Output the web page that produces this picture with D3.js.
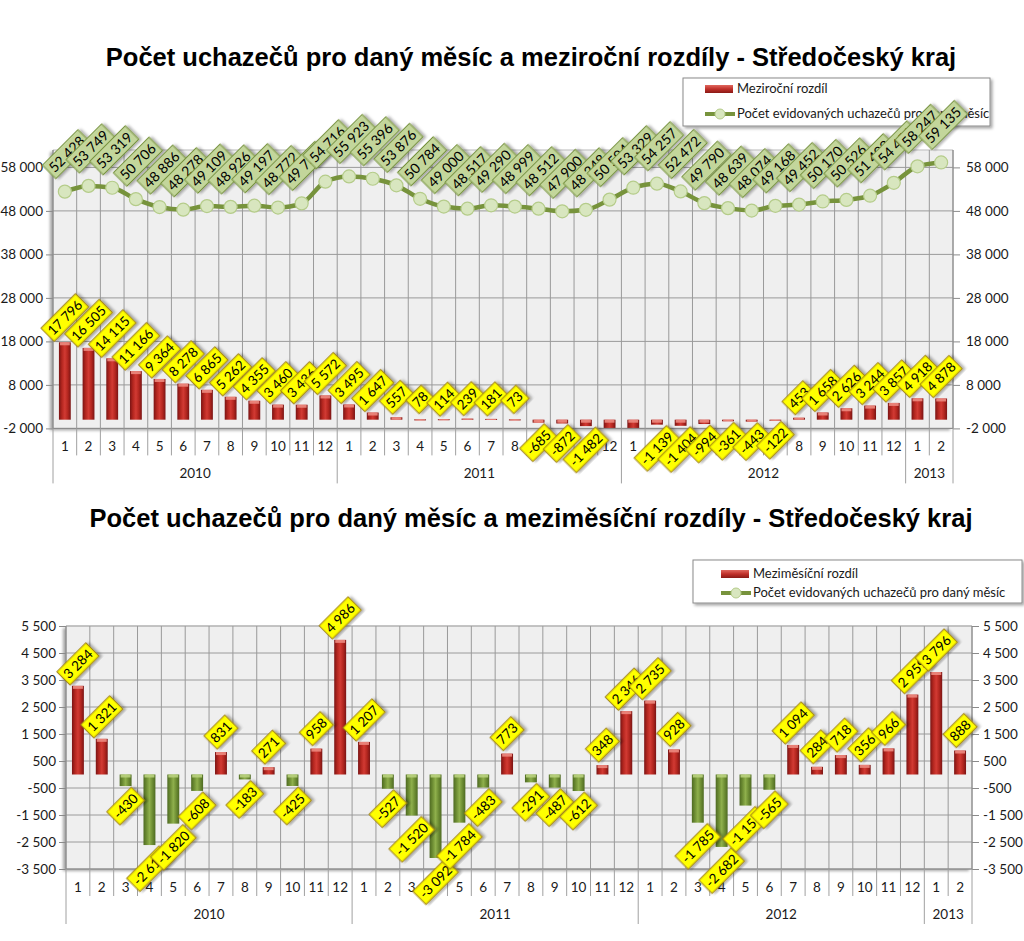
<!DOCTYPE html>
<html><head><meta charset="utf-8">
<script src="https://cdn.jsdelivr.net/npm/d3@7"></script>
<style>body{margin:0;background:#fff}svg{display:block}</style>
</head><body>
<svg id="c" width="1024" height="941"></svg>
<script>
// ---------- DATA ----------
const months = [1,2,3,4,5,6,7,8,9,10,11,12, 1,2,3,4,5,6,7,8,9,10,11,12, 1,2,3,4,5,6,7,8,9,10,11,12, 1,2];
const years = ["2010","2011","2012","2013"];
const yearLengths = [12,12,12,2];
const uchazeci = [52428,53749,53319,50706,48886,48278,49109,48926,49197,48772,49730,54716,
                  55923,55396,53876,50784,49000,48517,49290,48999,48512,47900,48248,50594,
                  53329,54257,52472,49790,48639,48074,49168,49452,50170,50526,51492,54451,
                  58247,59135];
const mezirocni = [17796,16505,14115,11166,9364,8278,6865,5262,4355,3460,3436,5572,
                   3495,1647,557,78,114,239,181,73,-685,-872,-1482,-4122,
                   -2594,-1139,-1404,-994,-361,-443,-122,453,1658,2626,3244,3857,
                   4918,4878];
const mezimesicni = [3284,1321,-430,-2613,-1820,-608,831,-183,271,-425,958,4986,
                     1207,-527,-1520,-3092,-1784,-483,773,-291,-487,-612,348,2346,
                     2735,928,-1785,-2682,-1151,-565,1094,284,718,356,966,2959,
                     3796,888];
const ticksTop = [-2000,8000,18000,28000,38000,48000,58000];
const domainTop = [-2000,62000];
const ticksBottom = [-3500,-2500,-1500,-500,500,1500,2500,3500,4500,5500];
const domainBottom = [-3500,5500];
const titleTop = "Počet uchazečů pro daný měsíc a meziroční rozdíly - Středočeský kraj";
const titleBottom = "Počet uchazečů pro daný měsíc a meziměsíční rozdíly - Středočeský kraj";
const legendBarTop = "Meziroční rozdíl";
const legendBarBottom = "Meziměsíční rozdíl";
const legendLine = "Počet evidovaných uchazečů pro daný měsíc";

// ---------- HELPERS ----------
const fmt = d3.formatLocale({decimal:",",thousands:"\u00a0",grouping:[3],currency:["",""],minus:"-"}).format(",d");
const svg = d3.select("#c");
const FONT = "Lato, 'Open Sans', sans-serif";
const defs = svg.append("defs");

function hGrad(id, stops){
  const g = defs.append("linearGradient").attr("id",id).attr("x1",0).attr("x2",1).attr("y1",0).attr("y2",0);
  stops.forEach(s=>g.append("stop").attr("offset",s[0]).attr("stop-color",s[1]));
}
function vGrad(id, stops){
  const g = defs.append("linearGradient").attr("id",id).attr("x1",0).attr("x2",0).attr("y1",0).attr("y2",1);
  stops.forEach(s=>g.append("stop").attr("offset",s[0]).attr("stop-color",s[1]));
}
hGrad("gRed",[[0,"#7a1414"],[0.25,"#b3261f"],[0.5,"#d23a33"],[0.75,"#b3261f"],[1,"#7a1414"]]);
hGrad("gGreen",[[0,"#4e6a22"],[0.25,"#6d8d33"],[0.5,"#8fb04c"],[0.75,"#6d8d33"],[1,"#4e6a22"]]);
vGrad("gRedLeg",[[0,"#e0685f"],[0.5,"#c0302a"],[1,"#8a1a16"]]);
const f1 = defs.append("filter").attr("id","shadow").attr("x","-20%").attr("y","-20%").attr("width","140%").attr("height","140%");
f1.append("feDropShadow").attr("dx",2).attr("dy",2).attr("stdDeviation",1.5).attr("flood-color","#000").attr("flood-opacity",0.35);
const f2 = defs.append("filter").attr("id","pshadow").attr("x","-5%").attr("y","-5%").attr("width","110%").attr("height","110%");
f2.append("feDropShadow").attr("dx",-3).attr("dy",2).attr("stdDeviation",1.5).attr("flood-color","#000").attr("flood-opacity",0.35);

function dataLabel(g, cx, cy, txt, fill, stroke, dir, minOff, extra, fs){
  const grp = g.append("g");
  const t = grp.append("text").text(txt).attr("text-anchor","middle").attr("dy","0.36em")
    .style("font-family",FONT).style("font-size",fs+"px").attr("fill","#000");
  const w = t.node().getComputedTextLength()+6, h = fs+5;
  const half = (w+h)/(2*Math.SQRT2);
  const off = Math.max(half, minOff) + extra;
  grp.attr("transform",`translate(${cx},${cy + (dir<0 ? -off : off)}) rotate(-45)`);
  grp.insert("rect","text").attr("x",-w/2).attr("y",-h/2).attr("width",w).attr("height",h)
    .attr("fill",fill).attr("stroke",stroke).attr("stroke-width",1).attr("filter","url(#shadow)");
}

function drawChart(cfg){
  const g = svg.append("g");
  const x = d3.scaleBand().domain(d3.range(months.length)).range([cfg.x0,cfg.x1]).padding(0);
  const y = d3.scaleLinear().domain(cfg.domain).range([cfg.yBot,cfg.yTop]);
  const step = x.step(), bw = step*0.5;
  const cx = i => x(i)+step/2;

  g.append("rect").attr("x",cfg.x0).attr("y",cfg.yTop).attr("width",cfg.x1-cfg.x0).attr("height",cfg.yBot-cfg.yTop)
    .attr("fill","#efefef").attr("filter","url(#pshadow)");
  g.append("g").selectAll("line").data(cfg.ticks).join("line")
    .attr("x1",cfg.x0).attr("x2",cfg.x1).attr("y1",d=>y(d)).attr("y2",d=>y(d))
    .attr("stroke","#9a9a9a").attr("stroke-width",1);
  g.append("line").attr("x1",cfg.x0).attr("x2",cfg.x1).attr("y1",cfg.yTop).attr("y2",cfg.yTop).attr("stroke","#bdbdbd");
  g.append("g").selectAll("line").data(d3.range(months.length+1)).join("line")
    .attr("x1",i=>cfg.x0+i*step).attr("x2",i=>cfg.x0+i*step).attr("y1",cfg.yTop).attr("y2",cfg.yBot)
    .attr("stroke","#9a9a9a").attr("stroke-width",1);

  const clipId = "clip"+cfg.id;
  defs.append("clipPath").attr("id",clipId).append("rect")
    .attr("x",cfg.x0).attr("y",cfg.yTop).attr("width",cfg.x1-cfg.x0).attr("height",cfg.yBot-cfg.yTop);
  const bars = g.append("g").attr("clip-path",`url(#${clipId})`);
  const z = y(0);
  cfg.bars.forEach((v,i)=>{
    const neg = v<0 && cfg.greenNeg;
    const top = Math.min(y(v),z), hgt = Math.max(Math.abs(y(v)-z),1);
    bars.append("rect").attr("x",cx(i)-bw/2).attr("y",top).attr("width",bw).attr("height",hgt)
      .attr("fill",neg?"url(#gGreen)":"url(#gRed)");
    const capY = v>=0 ? top : z;
    bars.append("rect").attr("x",cx(i)-bw/2+1).attr("y",capY).attr("width",bw-2).attr("height",Math.min(3,hgt))
      .attr("fill",neg?"#b9d27e":"#ec8a80").attr("opacity",0.9);
  });

  if(cfg.line){
    const lineG = g.append("g").attr("clip-path",`url(#${clipId})`);
    lineG.append("path").datum(cfg.line)
      .attr("d",d3.line().x((d,i)=>cx(i)).y(d=>y(d)).curve(d3.curveMonotoneX))
      .attr("fill","none").attr("stroke","#77933c").attr("stroke-width",4.5);
    lineG.selectAll("circle").data(cfg.line).join("circle")
      .attr("cx",(d,i)=>cx(i)).attr("cy",d=>y(d)).attr("r",6.5)
      .attr("fill","#d8e6bf").attr("stroke","#b5cc8a").attr("stroke-width",1.2);
  }

  const axL = g.append("g").attr("transform",`translate(${cfg.x0},0)`)
    .call(d3.axisLeft(y).tickValues(cfg.ticks).tickFormat(fmt).tickSize(7).tickPadding(3));
  const axR = g.append("g").attr("transform",`translate(${cfg.x1},0)`)
    .call(d3.axisRight(y).tickValues(cfg.ticks).tickFormat(fmt).tickSize(7).tickPadding(cfg.rPad));
  [axL,axR].forEach(a=>{
    a.select(".domain").remove();
    a.selectAll(".tick line").attr("stroke","#8a8a8a");
    a.selectAll("text").style("font-family",FONT).style("font-size","13.5px").attr("fill","#1a1a1a");
  });
  g.append("line").attr("x1",cfg.x0).attr("x2",cfg.x0).attr("y1",cfg.yTop).attr("y2",cfg.yBot).attr("stroke","#8a8a8a");
  g.append("line").attr("x1",cfg.x1).attr("x2",cfg.x1).attr("y1",cfg.yTop).attr("y2",cfg.yBot).attr("stroke","#8a8a8a");

  const axB = g.append("g").attr("transform",`translate(0,${cfg.yBot})`)
    .call(d3.axisBottom(x).tickFormat(i=>months[i]).tickSize(0).tickPadding(13));
  axB.select(".domain").remove();
  axB.selectAll("text").style("font-family",FONT).style("font-size","13.5px").attr("fill","#1a1a1a");
  g.append("line").attr("x1",cfg.x0).attr("x2",cfg.x1).attr("y1",cfg.yBot).attr("y2",cfg.yBot).attr("stroke","#8a8a8a");
  const yearStarts = [];
  let acc = 0; yearLengths.forEach(n=>{yearStarts.push(acc); acc+=n;});
  const yearBounds = new Set([...yearStarts, months.length]);
  g.append("g").selectAll("line").data(d3.range(months.length+1)).join("line")
    .attr("x1",i=>cfg.x0+i*step).attr("x2",i=>cfg.x0+i*step)
    .attr("y1",cfg.yBot).attr("y2",i=>cfg.yBot+(yearBounds.has(i)?55:27))
    .attr("stroke","#a0a0a0");
  g.append("g").selectAll("text").data(years).join("text")
    .attr("x",(d,k)=>cfg.x0+(yearStarts[k]+yearLengths[k]/2)*step)
    .attr("y",cfg.yBot+50).attr("text-anchor","middle").text(d=>d)
    .style("font-family",FONT).style("font-size","13.5px").attr("fill","#1a1a1a");

  if(cfg.line){
    const lg = g.append("g");
    cfg.line.forEach((v,i)=>dataLabel(lg, cx(i)+2, y(v), fmt(v), "#c3d69b", "#77933c", -1, 0, 13, 14));
  }
  const bl = g.append("g");
  cfg.bars.forEach((v,i)=>{
    if(v < cfg.domain[0] || v > cfg.domain[1]) return;
    dataLabel(bl, cx(i), y(v), fmt(v), "#ffff00", "#9c7b10", v<0?1:-1, 19, 1, 13.5);
  });

  svg.append("text").attr("x",cfg.titleX).attr("y",cfg.titleY).attr("text-anchor","middle").text(cfg.title)
    .style("font-family","'Liberation Sans', Arial, sans-serif").style("font-weight","bold").style("font-size","25.5px").attr("fill","#000");

  const L = cfg.legend;
  const lgG = svg.append("g");
  lgG.append("rect").attr("x",L.x).attr("y",L.y).attr("width",L.w).attr("height",L.h)
    .attr("fill","#fff").attr("stroke","#8a8a8a").attr("filter","url(#shadow)");
  lgG.append("rect").attr("x",L.sx).attr("y",L.y1-4).attr("width",28).attr("height",8).attr("fill","url(#gRedLeg)");
  lgG.append("line").attr("x1",L.sx).attr("x2",L.sx+30).attr("y1",L.y2).attr("y2",L.y2).attr("stroke","#77933c").attr("stroke-width",4);
  lgG.append("circle").attr("cx",L.sx+15).attr("cy",L.y2).attr("r",5).attr("fill","#d8e6bf").attr("stroke","#b5cc8a");
  lgG.append("text").attr("x",L.sx+32).attr("y",L.y1+4).text(cfg.legendBar)
    .style("font-family",FONT).style("font-size","13px").attr("fill","#1a1a1a");
  lgG.append("text").attr("x",L.sx+32).attr("y",L.y2+4).text(legendLine)
    .style("font-family",FONT).style("font-size","13px").attr("fill","#1a1a1a");
  if(cfg.line){ lgG.lower(); }
}

drawChart({id:"t", x0:53, x1:953, yTop:150, yBot:428.4, domain:domainTop, ticks:ticksTop,
  bars:mezirocni, line:uchazeci, greenNeg:false, rPad:6,
  title:titleTop, titleX:531, titleY:66, legendBar:legendBarTop,
  legend:{x:683,y:78,w:307,h:48,sx:705,y1:89,y2:114}});
drawChart({id:"b", x0:66, x1:972, yTop:626, yBot:869, domain:domainBottom, ticks:ticksBottom,
  bars:mezimesicni, line:null, greenNeg:true, rPad:4,
  title:titleBottom, titleX:531, titleY:527, legendBar:legendBarBottom,
  legend:{x:693,y:560,w:329,h:43,sx:721,y1:574,y2:593}});
</script>
</body></html>
